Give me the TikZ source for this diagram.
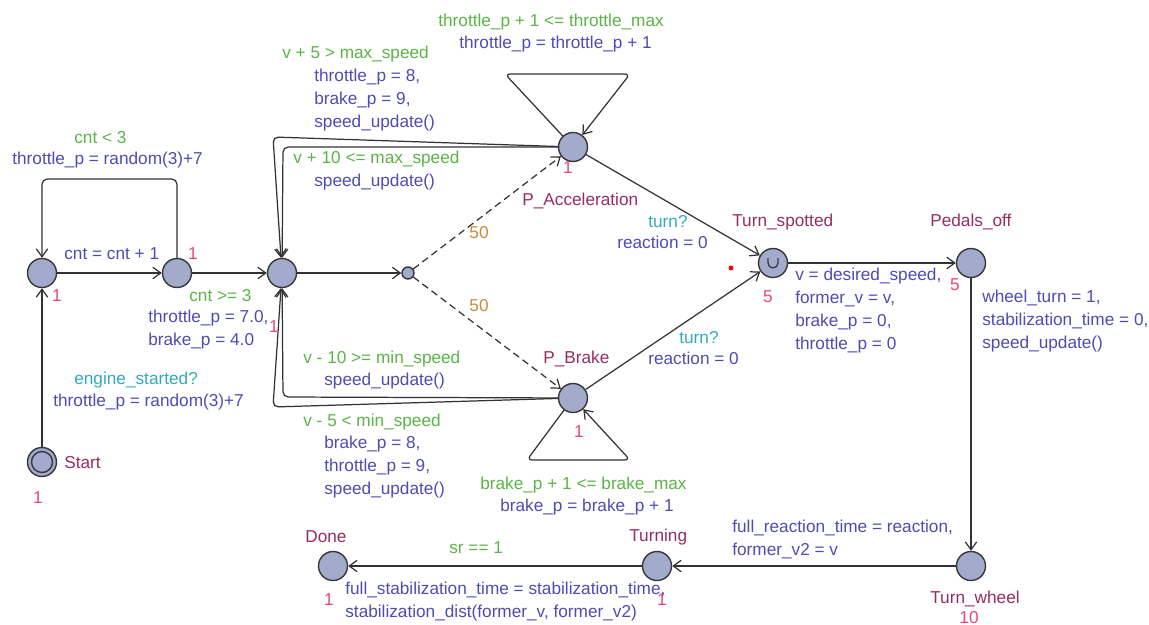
\documentclass[tikz,border=0pt]{standalone}
\usepackage{fontspec}
\setmainfont{Liberation Sans}
\usetikzlibrary{arrows.meta,calc}
\definecolor{locfill}{RGB}{163,171,204}
\definecolor{locline}{RGB}{55,55,60}
\definecolor{edgeline}{RGB}{50,50,50}
\definecolor{namecol}{RGB}{150,45,95}
\definecolor{guardcol}{RGB}{90,180,70}
\definecolor{synccol}{RGB}{50,170,190}
\definecolor{updcol}{RGB}{80,75,180}
\definecolor{ratecol}{RGB}{235,70,120}
\definecolor{weightcol}{RGB}{200,140,60}
\begin{document}
\begin{tikzpicture}[x=0.02cm,y=-0.02cm,
    loc/.style={circle,draw=locline,fill=locfill,line width=0.8pt,minimum size=0.58cm,inner sep=0pt},
    branchpt/.style={circle,draw=locline,fill=locfill,line width=0.8pt,minimum size=0.24cm,inner sep=0pt},
    trans/.style={draw=edgeline,line width=0.7pt,-{Straight Barb[length=4.5pt,width=6.5pt]}},
    prob/.style={trans,dash pattern=on 4pt off 2.5pt},
    lbl/.style={font=\fontsize{9.8}{13.1}\selectfont,inner sep=0pt,align=left},
    locname/.style={lbl,text=namecol,anchor=west},
    guard/.style={lbl,text=guardcol,anchor=west},
    sync/.style={lbl,text=synccol,anchor=west},
    upd/.style={lbl,text=updcol,anchor=north west},
    rate/.style={lbl,text=ratecol},
    wgt/.style={lbl,text=weightcol}]
  \useasboundingbox (0,0) rectangle (1149,625);

  \node[loc] (start) at (42,462) {};
  \draw[locline,line width=0.8pt] (start.center) circle[radius=0.21cm];
  \node[loc] (l0) at (42,273) {};
  \node[loc] (l1) at (177,273) {};
  \node[loc] (l2) at (282,273) {};
  \node[branchpt] (br) at (408,273) {};
  \node[loc] (pacc) at (573,147) {};
  \node[loc] (pbrk) at (573,398) {};
  \node[loc] (tsp) at (773,263) {};
  \node[loc] (poff) at (971,263) {};
  \node[loc] (twh) at (971,566) {};
  \node[loc] (tng) at (657,566) {};
  \node[loc] (done) at (333,566) {};
  \draw[locline,line width=0.7pt] ($(tsp.center)+(-5,-5)$) -- ++(0,5)
    arc[start angle=180,end angle=360,radius=0.1cm] -- ++(0,-5);

  \draw[trans] (start) -- (l0);
  \draw[trans] (l0) -- (l1);
  \draw[trans,rounded corners=3pt] (l1) -- (177,179) -- (42,179) -- (l0);
  \draw[trans] (l1) -- (l2);
  \draw[trans] (l2) -- (br);
  \draw[prob] (br) -- (pacc);
  \draw[prob] (br) -- (pbrk);
  \draw[trans,rounded corners=3pt] (pacc) -- (505,74) -- (630,74) -- (pacc);
  \draw[trans,rounded corners=3pt] (pacc) -- (273,137) -- (l2);
  \draw[trans,rounded corners=3pt] (pacc) -- (283,147) -- (l2);
  \draw[trans,rounded corners=3pt] (pbrk) -- (283,397) -- (l2);
  \draw[trans,rounded corners=3pt] (pbrk) -- (273,407) -- (l2);
  \draw[trans,rounded corners=3pt] (pbrk) -- (527,460) -- (630,460) -- (pbrk);
  \draw[trans] (pacc) -- (tsp);
  \draw[trans] (pbrk) -- (tsp);
  \draw[trans] (tsp) -- (poff);
  \draw[trans] (poff) -- (twh);
  \draw[trans] (twh) -- (tng);
  \draw[trans] (tng) -- (done);
  \fill[red] (731,268) circle[radius=1.4pt];

  \node[locname] (nstart) at (64,463) {Start};
  \node[locname] (npacc) at (522,201) {P\_Acceleration};
  \node[locname] (npbrk) at (543,359) {P\_Brake};
  \node[locname] (ntsp) at (732,222) {Turn\_spotted};
  \node[locname] (npoff) at (930,222) {Pedals\_off};
  \node[locname] (ntwh) at (930,599) {Turn\_wheel};
  \node[locname] (ntng) at (629,537) {Turning};
  \node[locname] (ndone) at (305,537) {Done};

  \node[rate] (rstart) at (38,498) {1};
  \node[rate] (rl0) at (57,296) {1};
  \node[rate] (rl1) at (193,254) {1};
  \node[rate] (rl2) at (274,327) {1};
  \node[rate] (rpacc) at (568,168) {1};
  \node[rate] (rpbrk) at (579,432) {1};
  \node[rate] (rtsp) at (768,297) {5};
  \node[rate] (rpoff) at (955,285) {5};
  \node[rate] (rtwh) at (969,618) {10};
  \node[rate] (rdone) at (329,600) {1};
  \node[rate] (rtng) at (662,600) {1};

  \node[wgt] (wacc) at (479,233) {50};
  \node[wgt] (wbrk) at (479,306) {50};

  \node[guard] (gloop) at (74,138) {cnt < 3};
  \node[guard] (gcnt) at (189,296) {cnt >= 3};
  \node[guard] (gmax) at (282,54) {v + 5 > max\_speed};
  \node[guard] (gacc) at (293,159) {v + 10 <= max\_speed};
  \node[guard] (gbrk) at (303,359) {v - 10 >= min\_speed};
  \node[guard] (gmin) at (303,422) {v - 5 < min\_speed};
  \node[guard] (gthr) at (438,22) {throttle\_p + 1 <= throttle\_max};
  \node[guard] (gbrm) at (480,485) {brake\_p + 1 <= brake\_max};
  \node[guard] (gsr) at (449,548) {sr == 1};

  \node[sync] (seng) at (74,380) {engine\_started?};
  \node[sync] (sacc) at (648,222) {turn?};
  \node[sync] (sbrk) at (679,338) {turn?};

  \node[upd] (uloop) at (12,152) {throttle\_p = random(3)+7};
  \node[upd] (ucnt) at (64,247) {cnt = cnt + 1};
  \node[upd] (uinit) at (148,310) {throttle\_p = 7.0,\\brake\_p = 4.0};
  \node[upd] (ueng) at (53,394) {throttle\_p = random(3)+7};
  \node[upd] (uthr) at (459,36) {throttle\_p = throttle\_p + 1};
  \node[upd] (umax) at (314,69) {throttle\_p = 8,\\brake\_p = 9,\\speed\_update()};
  \node[upd] (uacc) at (314,174) {speed\_update()};
  \node[upd] (rsacc) at (617,236) {reaction = 0};
  \node[upd] (rsbrk) at (648,352) {reaction = 0};
  \node[upd] (ubrk) at (324,373) {speed\_update()};
  \node[upd] (umin) at (324,436) {brake\_p = 8,\\throttle\_p = 9,\\speed\_update()};
  \node[upd] (ubrm) at (500,499) {brake\_p = brake\_p + 1};
  \node[upd] (utsp) at (795,268) {v = desired\_speed,\\former\_v = v,\\brake\_p = 0,\\throttle\_p = 0};
  \node[upd] (upoff) at (982,290) {wheel\_turn = 1,\\stabilization\_time = 0,\\speed\_update()};
  \node[upd] (utwh) at (732,520) {full\_reaction\_time = reaction,\\former\_v2 = v};
  \node[upd] (utng) at (345,582) {full\_stabilization\_time = stabilization\_time,\\stabilization\_dist(former\_v, former\_v2)};
\end{tikzpicture}
\end{document}
